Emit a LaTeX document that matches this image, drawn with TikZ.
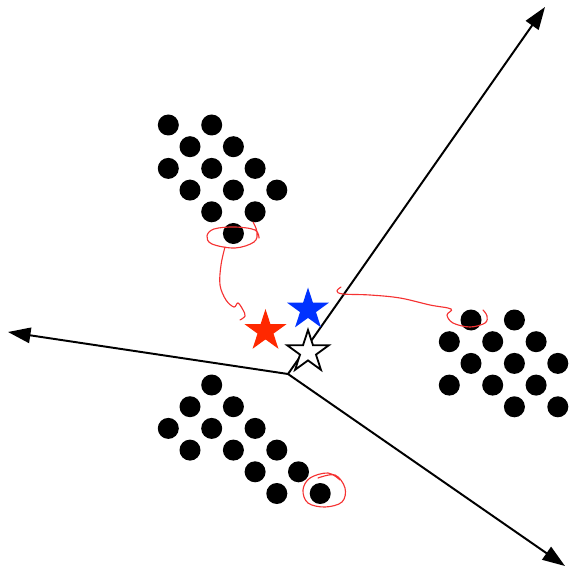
\documentclass[tikz,border=0pt]{standalone}
\usepackage{xcolor}
\usetikzlibrary{shapes.geometric,arrows.meta}

\definecolor{starred}{RGB}{255,40,0}
\definecolor{starblue}{RGB}{0,50,255}
\definecolor{scribblered}{RGB}{245,50,50}

\tikzset{
  axis/.style={line width=1.4pt, -{Triangle[length=16pt,width=11pt]}},
  scribble/.style={scribblered, line width=0.8pt, line cap=round},
  starnode/.style={star, star points=5, star point ratio=2.618, inner sep=0pt, minimum size=1.1cm}
}

\begin{document}
\begin{tikzpicture}[x=0.025cm, y=-0.025cm]
  \useasboundingbox (0,0) rectangle (568,569);

  % axes from a common origin
  \coordinate (origin) at (288,374);
  \coordinate (tipA) at (545,7);
  \coordinate (tipB) at (8,332);
  \coordinate (tipC) at (565,566);
  \draw[axis] (origin) -- (tipA);
  \draw[axis] (origin) -- (tipB);
  \draw[axis] (origin) -- (tipC);

  % clusters of dots
  \foreach \i/\j in {0/0,2/0,1/1,3/1,0/2,2/2,4/2,1/3,3/3,5/3,2/4,4/4,3/5}
    \fill (168.3+21.7*\i,125+21.7*\j) circle[radius=10.5];
  \foreach \i/\j in {1/0,3/0,0/1,2/1,4/1,1/2,3/2,5/2,0/3,2/3,4/3,3/4,5/4}
    \fill (449.3+21.7*\i,320+21.7*\j) circle[radius=10.5];
  \foreach \i/\j in {2/0,1/1,3/1,0/2,2/2,4/2,1/3,3/3,5/3,4/4,6/4,5/5,7/5}
    \fill (168.3+21.7*\i,385+21.7*\j) circle[radius=10.5];

  % stars
  \node[starnode, fill=starred] (redstar) at (265.5,331) {};
  \node[starnode, fill=starblue] (bluestar) at (308,309.5) {};
  \node[starnode, fill=white, draw=black, line width=1.3pt] (whitestar) at (308,352) {};

  % hand drawn marks
  \draw[scribble] plot[smooth, tension=0.6] coordinates {(253,222) (257,232) (254,242) (235,248) (212,244) (207,236) (214,229) (235,227) (255,230) (259,238)};
  \draw[scribble] plot[smooth, tension=0.6] coordinates {(225,247) (221,265) (220,285) (226,300) (234,307) (238,303) (243,310) (245,316) (240,320)};
  \draw[scribble] plot[smooth, tension=0.6] coordinates {(341,287) (337,291) (343,294) (370,295) (400,298) (430,305) (451,309) (447,315) (453,323) (470,327) (485,323) (487,316) (483,310)};
  \draw[scribble] plot[smooth, tension=0.6] coordinates {(318,478) (335,475) (345,488) (342,502) (325,507) (308,503) (303,490) (310,478) (328,473) (340,480)};
\end{tikzpicture}
\end{document}
